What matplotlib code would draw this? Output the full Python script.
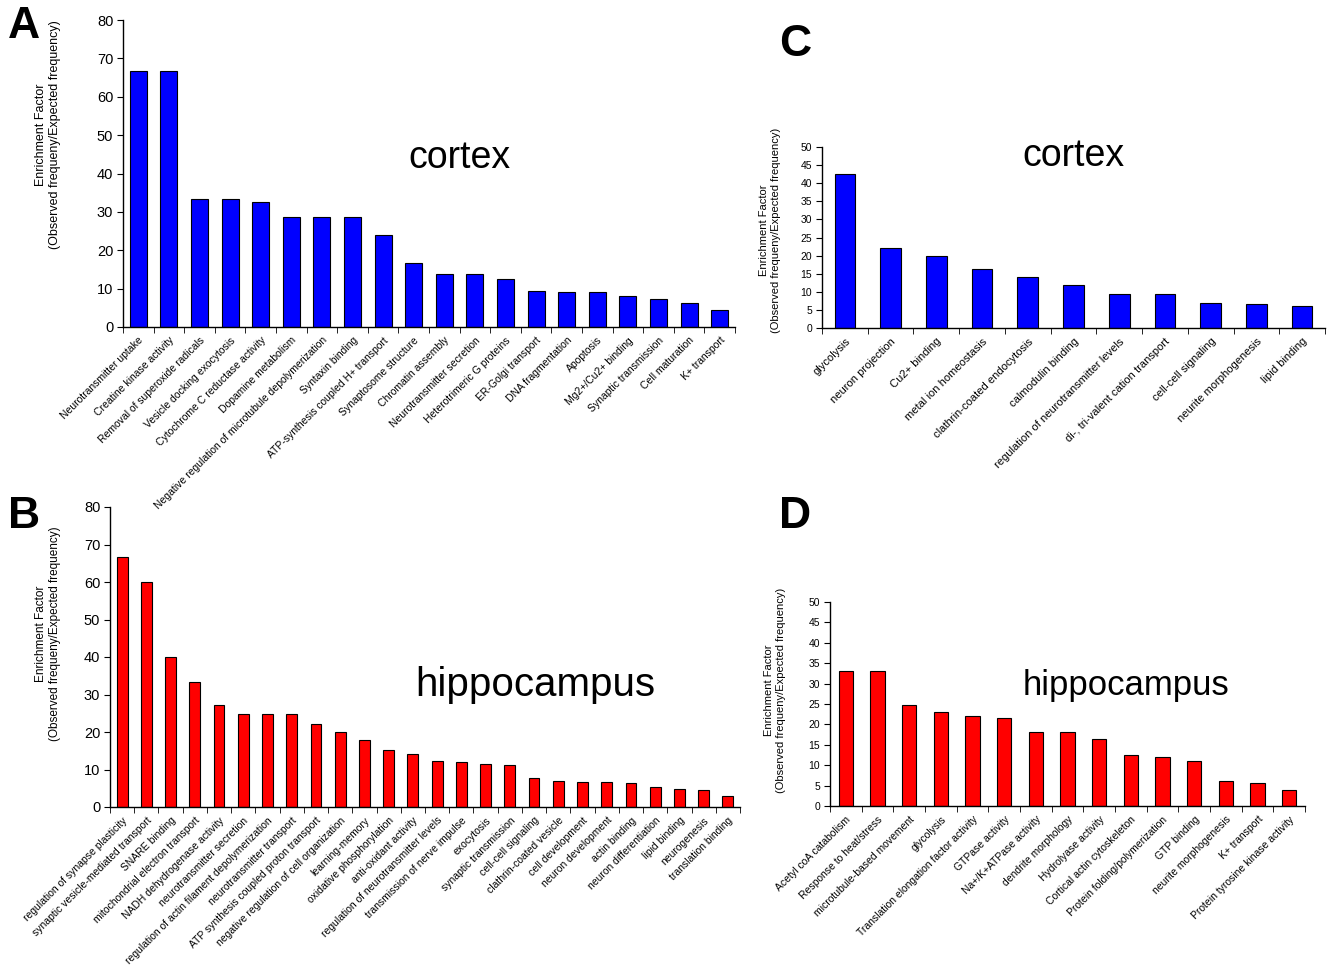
import matplotlib
matplotlib.use("Agg")
import matplotlib.pyplot as plt
import numpy as np

plt.rcParams['font.family'] = ['Liberation Sans', 'DejaVu Sans']

# Panel A - cortex
labels_a = ["Neurotransmitter uptake", "Creatine kinase activity", "Removal of superoxide radicals",
            "Vesicle docking exocytosis", "Cytochrome C reductase activity", "Dopamine metabolism",
            "Negative regulation of microtubule depolymerization", "Syntaxin binding",
            "ATP-synthesis coupled H+ transport", "Synaptosome structure", "Chromatin assembly",
            "Neurotransmitter secretion", "Heterotrimeric G proteins", "ER-Golgi transport",
            "DNA fragmentation", "Apoptosis", "Mg2+/Cu2+ binding", "Synaptic transmission",
            "Cell maturation", "K+ transport"]
values_a = [66.7, 66.7, 33.3, 33.3, 32.5, 28.6, 28.6, 28.6, 24.0, 16.7, 13.8, 13.8,
            12.5, 9.5, 9.2, 9.2, 8.2, 7.4, 6.3, 4.5]

# Panel B - hippocampus
labels_b = ["regulation of synapse plasticity", "synaptic vesicle-mediated transport", "SNARE binding",
            "mitochondrial electron transport", "NADH dehydrogenase activity", "neurotransmitter secretion",
            "regulation of actin filament depolymerization", "neurotransmitter transport",
            "ATP synthesis coupled proton transport", "negative regulation of cell organization",
            "learning-memory", "oxidative phosphorylation", "anti-oxidant activity",
            "regulation of neurotransmitter levels", "transmission of nerve impulse", "exocytosis",
            "synaptic transmission", "cell-cell signaling", "clathrin-coated vesicle", "cell development",
            "neuron development", "actin binding", "neuron differentiation", "lipid binding",
            "neurogenesis", "translation binding"]
values_b = [66.7, 60.0, 40.0, 33.3, 27.3, 24.8, 24.8, 24.8, 22.1, 20.0, 18.0, 15.3, 14.2,
            12.4, 12.0, 11.6, 11.3, 7.8, 7.0, 6.7, 6.7, 6.4, 5.3, 4.9, 4.5, 3.0]

# Panel C - cortex
labels_c = ["glycolysis", "neuron projection", "Cu2+ binding", "metal ion homeostasis",
            "clathrin-coated endocytosis", "calmodulin binding", "regulation of neurotransmitter levels",
            "di-, tri-valent cation transport", "cell-cell signaling", "neurite morphogenesis",
            "lipid binding"]
values_c = [42.5, 22.0, 19.8, 16.3, 14.0, 11.8, 9.5, 9.5, 7.0, 6.7, 6.0]

# Panel D - hippocampus
labels_d = ["Acetyl coA catabolism", "Response to heat/stress", "microtubule-based movement",
            "glycolysis", "Translation elongation factor activity", "GTPase activity",
            "Na+/K+ATPase activity", "dendrite morphology", "Hydrolyase activity",
            "Cortical actin cytoskeleton", "Protein folding/polymerization", "GTP binding",
            "neurite morphogenesis", "K+ transport", "Protein tyrosine kinase activity"]
values_d = [33.0, 33.0, 24.8, 23.0, 22.0, 21.5, 18.2, 18.2, 16.5, 12.5, 12.0, 11.0, 6.2, 5.6, 3.8]

W, H = 1339, 969
fig = plt.figure(figsize=(W / 100, H / 100), dpi=100)
fig.patch.set_facecolor("white")


def px_axes(left, right, top, bottom):
    ax = fig.add_axes([left / W, 1 - bottom / H, (right - left) / W, (bottom - top) / H])
    ax.patch.set_alpha(0)  # keep labels of the panel above visible
    return ax


def bar_panel(ax, labels, values, color, ymax, ystep, width, tick_fs, label_fs):
    n = len(values)
    x = np.arange(n)
    ax.bar(x, values, width=width, color=color, edgecolor="black", linewidth=0.8, zorder=2)
    ax.set_xlim(-0.5, n - 0.5)
    ax.set_ylim(0, ymax)
    ax.set_yticks(np.arange(0, ymax + 0.1, ystep))
    ax.tick_params(axis="y", direction="out", length=4, labelsize=tick_fs, pad=3)
    ax.set_xticks(x)
    ax.set_xticklabels(labels, rotation=45, ha="right", rotation_mode="anchor", fontsize=label_fs)
    ax.tick_params(axis="x", which="major", length=0, pad=6)
    ax.set_xticks(np.arange(-0.5, n, 1.0), minor=True)
    ax.tick_params(axis="x", which="minor", direction="out", length=4)
    for s in ["top", "right"]:
        ax.spines[s].set_visible(False)
    for s in ["left", "bottom"]:
        ax.spines[s].set_linewidth(1.0)


ylab = "Enrichment Factor\n(Observed frequeny/Expected frequency)"

ax_a = px_axes(123, 735, 20, 327)
bar_panel(ax_a, labels_a, values_a, "#0000ff", 80, 10, 0.55, 10.5, 7.5)
ax_a.text(0.55, 0.55, "cortex", transform=ax_a.transAxes, fontsize=27, ha="center", va="center")

ax_b = px_axes(110, 740, 507, 807)
bar_panel(ax_b, labels_b, values_b, "#ff0000", 80, 10, 0.45, 10.5, 7.5)
ax_b.text(0.675, 0.407, "hippocampus", transform=ax_b.transAxes, fontsize=29, ha="center", va="center")

ax_c = px_axes(822, 1325, 147, 328)
bar_panel(ax_c, labels_c, values_c, "#0000ff", 50, 5, 0.45, 7.5, 8)
ax_c.text(0.5, 0.95, "cortex", transform=ax_c.transAxes, fontsize=27, ha="center", va="center")

ax_d = px_axes(830, 1305, 602, 806)
bar_panel(ax_d, labels_d, values_d, "#ff0000", 50, 5, 0.45, 7.5, 7.5)
ax_d.text(0.623, 0.593, "hippocampus", transform=ax_d.transAxes, fontsize=25, ha="center", va="center")

# y labels and panel letters
for xp, yp, fs in [(48, 135, 9), (48, 634, 8.5), (770, 230, 8), (775, 690, 8)]:
    fig.text(xp / W, 1 - yp / H, ylab, rotation=90, ha="center", va="center",
             fontsize=fs, multialignment="center")

for letter, xp, yp in [("A", 24, 26), ("B", 24, 516), ("C", 795, 45), ("D", 795, 516)]:
    fig.text(xp / W, 1 - yp / H, letter, fontsize=32, fontweight="bold", ha="center", va="center")

fig.savefig("out.png", dpi=100, facecolor="white")
